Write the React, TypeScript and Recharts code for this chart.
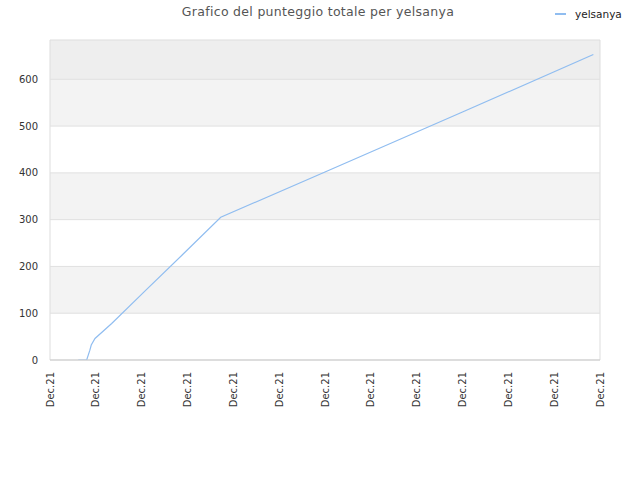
import React from "react";
import { LineChart, Line, XAxis, YAxis, ReferenceLine, ReferenceArea } from "recharts";

const seriesName = "yelsanya";
const titleText = "Grafico del punteggio totale per yelsanya";
const xPositions = [0.617, 0.8, 0.87, 0.9, 0.982, 1.346, 2.036, 2.9, 3.725, 6.0, 9.0, 11.855];
const scores = [0, 0, 21, 32, 46, 78, 144, 226, 305, 402, 530, 653];
const xTicks = [0, 1, 2, 3, 4, 5, 6, 7, 8, 9, 10, 11, 12];
const xTickLabel = "Dec.21";
const yTicks = [0, 100, 200, 300, 400, 500, 600];
const yMax = 684;

const data = xPositions.map((x, i) => ({ x, v: scores[i] }));

const FONT = "'DejaVu Sans', sans-serif";
const LINE_COLOR = "#90bdf0";

const XTick = (props: any) => {
  const { x, y } = props;
  return (
    <g transform={`translate(${x},${y})`}>
      <text transform="rotate(-90)" textAnchor="end" dy="0.35em" fontSize={10} fill="#333" fontFamily={FONT}>
        {xTickLabel}
      </text>
    </g>
  );
};

const bandFills = ["#ffffff", "#f3f3f3", "#ffffff", "#f3f3f3", "#ffffff", "#f3f3f3", "#eeeeee"];

export default function App() {
  const bounds = [...yTicks, yMax];
  return (
    <div style={{ position: "absolute", left: 0, top: 0, width: 640, height: 480, background: "#fff" }}>
      <div
        style={{
          position: "absolute",
          left: 0,
          width: 636,
          top: 4,
          textAlign: "center",
          fontFamily: FONT,
          fontSize: 12.5,
          color: "#555",
          letterSpacing: 0.3,
        }}
      >
        {titleText}
      </div>
      <div
        style={{
          position: "absolute",
          top: 8,
          left: 555,
          display: "flex",
          alignItems: "center",
          fontFamily: FONT,
          fontSize: 10.5,
          color: "#222",
          whiteSpace: "nowrap",
        }}
      >
        <span style={{ display: "inline-block", width: 11, height: 2, background: LINE_COLOR, marginRight: 9 }} />
        <span>{seriesName}</span>
      </div>
      <LineChart width={640} height={480} data={data} margin={{ top: 40, right: 40, bottom: 70, left: 0 }}>
        {bounds.slice(0, -1).map((b, i) => (
          <ReferenceArea key={"a" + i} x1={0} x2={12} y1={b} y2={bounds[i + 1]} fill={bandFills[i]} fillOpacity={1} stroke="none" />
        ))}
        {yTicks.slice(1).map((t) => (
          <ReferenceLine key={"l" + t} y={t} stroke="#e0e0e0" />
        ))}
        <ReferenceArea x1={0} x2={12} y1={0} y2={yMax} fill="none" stroke="#dddddd" />
        <XAxis
          type="number"
          dataKey="x"
          domain={[0, 12]}
          ticks={xTicks}
          interval={0}
          tick={<XTick />}
          tickLine={false}
          tickSize={0}
          tickMargin={12}
          axisLine={{ stroke: "#cccccc" }}
          height={50}
          allowDataOverflow
        />
        <YAxis
          type="number"
          domain={[0, yMax]}
          ticks={yTicks}
          interval={0}
          width={50}
          tickLine={false}
          tickSize={0}
          tickMargin={12}
          axisLine={false}
          tick={{ fontSize: 10, fill: "#333", fontFamily: FONT }}
          allowDataOverflow
        />
        <Line type="linear" dataKey="v" stroke={LINE_COLOR} strokeWidth={1.2} dot={false} isAnimationActive={false} />
      </LineChart>
    </div>
  );
}
